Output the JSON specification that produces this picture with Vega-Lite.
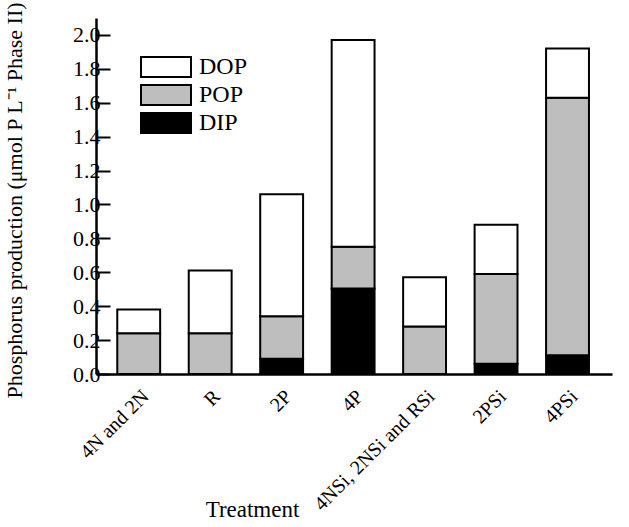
{
  "$schema": "https://vega.github.io/schema/vega-lite/v6.json",
  "autosize": "none",
  "width": 516,
  "height": 356,
  "padding": {"left": 96, "top": 18, "right": 17, "bottom": 153},
  "background": "white",
  "config": {
    "view": {"stroke": null},
    "font": "Liberation Serif",
    "axis": {"labelFont": "Liberation Serif", "titleFont": "Liberation Serif", "labelColor": "black", "titleColor": "black", "titleFontWeight": "normal", "domainColor": "black", "tickColor": "black"},
    "legend": {"labelFont": "Liberation Serif", "labelColor": "black"}
  },
  "data": {
    "values": [
      {"treatment": "4N and 2N", "component": "POP", "value": 0.24, "ord": 2},
      {"treatment": "4N and 2N", "component": "DOP", "value": 0.14, "ord": 3},
      {"treatment": "R", "component": "POP", "value": 0.24, "ord": 2},
      {"treatment": "R", "component": "DOP", "value": 0.37, "ord": 3},
      {"treatment": "2P", "component": "DIP", "value": 0.09, "ord": 1},
      {"treatment": "2P", "component": "POP", "value": 0.25, "ord": 2},
      {"treatment": "2P", "component": "DOP", "value": 0.72, "ord": 3},
      {"treatment": "4P", "component": "DIP", "value": 0.505, "ord": 1},
      {"treatment": "4P", "component": "POP", "value": 0.245, "ord": 2},
      {"treatment": "4P", "component": "DOP", "value": 1.22, "ord": 3},
      {"treatment": "4NSi, 2NSi and RSi", "component": "POP", "value": 0.28, "ord": 2},
      {"treatment": "4NSi, 2NSi and RSi", "component": "DOP", "value": 0.29, "ord": 3},
      {"treatment": "2PSi", "component": "DIP", "value": 0.06, "ord": 1},
      {"treatment": "2PSi", "component": "POP", "value": 0.53, "ord": 2},
      {"treatment": "2PSi", "component": "DOP", "value": 0.29, "ord": 3},
      {"treatment": "4PSi", "component": "DIP", "value": 0.11, "ord": 1},
      {"treatment": "4PSi", "component": "POP", "value": 1.52, "ord": 2},
      {"treatment": "4PSi", "component": "DOP", "value": 0.29, "ord": 3}
    ]
  },
  "mark": {"type": "bar", "stroke": "black", "strokeWidth": 2, "strokeJoin": "miter"},
  "encoding": {
    "x": {
      "field": "treatment",
      "type": "nominal",
      "sort": ["4N and 2N", "R", "2P", "4P", "4NSi, 2NSi and RSi", "2PSi", "4PSi"],
      "scale": {"paddingInner": 0.4, "paddingOuter": 0.31, "align": 0.48},
      "axis": {
        "title": "Treatment",
        "titleFontSize": 23,
        "titleX": 156,
        "titleY": 142,
        "titleAlign": "center",
        "titleBaseline": "alphabetic",
        "labelAngle": -45,
        "labelFontSize": 20,
        "labelPadding": 12,
        "ticks": false,
        "domainWidth": 2.5
      }
    },
    "y": {
      "field": "value",
      "type": "quantitative",
      "stack": "zero",
      "scale": {"domain": [0, 2.1], "nice": false, "zero": true},
      "axis": {
        "title": "Phosphorus production (μmol P L⁻¹ Phase II)",
        "titleFontSize": 22,
        "titleX": -82,
        "titleY": 182,
        "titleAlign": "center",
        "titleBaseline": "middle",
        "values": [0, 0.2, 0.4, 0.6, 0.8, 1.0, 1.2, 1.4, 1.6, 1.8, 2.0],
        "format": ".1f",
        "labelFontSize": 22,
        "labelPadding": 10,
        "tickSize": -14,
        "tickWidth": 2,
        "domainWidth": 2.5,
        "grid": false
      }
    },
    "color": {
      "field": "component",
      "type": "nominal",
      "scale": {"domain": ["DOP", "POP", "DIP"], "range": ["#ffffff", "#bebebe", "#000000"]},
      "legend": {
        "title": null,
        "orient": "none",
        "legendX": 43,
        "legendY": 37,
        "symbolType": "M-2.5,-1H2.5V1H-2.5Z",
        "symbolSize": 400,
        "symbolOffset": 15,
        "symbolStrokeColor": "black",
        "symbolStrokeWidth": 2,
        "symbolOpacity": 1,
        "labelOffset": 21,
        "labelFontSize": 24,
        "rowPadding": 0,
        "padding": 0
      }
    },
    "order": {"field": "ord", "type": "quantitative"}
  }
}
